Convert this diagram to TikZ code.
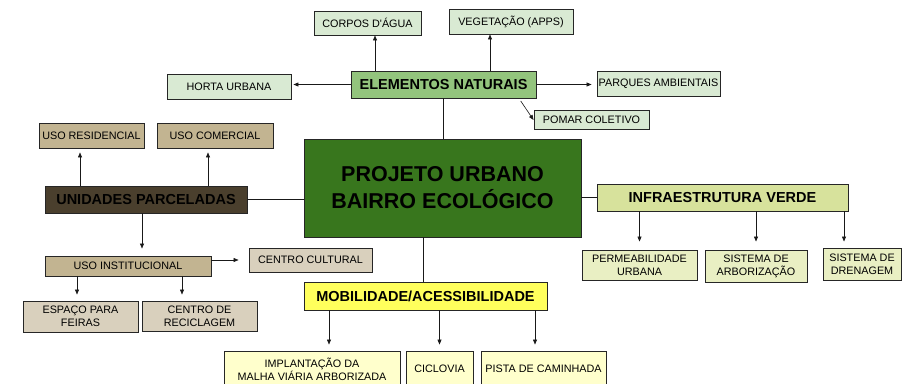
\documentclass[tikz,border=0pt]{standalone}
\usepackage{fontspec}
\setmainfont{Liberation Sans}
\usetikzlibrary{arrows.meta}
\definecolor{verdeclaro}{HTML}{D9EAD3}
\definecolor{verdemedio}{HTML}{93C47D}
\definecolor{verdeescuro}{HTML}{38761D}
\definecolor{marromescuro}{HTML}{4A3F2D}
\definecolor{marrom}{HTML}{C2B491}
\definecolor{marromclaro}{HTML}{D9D0BD}
\definecolor{verdeamarelo}{HTML}{D7E29C}
\definecolor{verdeamareloclaro}{HTML}{E9EFC3}
\definecolor{amarelo}{HTML}{FFFF5C}
\definecolor{amareloclaro}{HTML}{FFFFCC}
\tikzset{
	caixa/.style={draw=black!85, line width=0.9pt, inner sep=1pt, align=center, font=\fontsize{10.8}{13}\selectfont},
	titulo/.style={caixa, font=\fontsize{14.5}{17}\selectfont\bfseries},
	seta/.style={-{Triangle[length=5pt,width=4pt]}, line width=0.6pt, color=black!90},
	liga/.style={line width=0.8pt, color=black!90},
}

\begin{document}
\begin{tikzpicture}[x=1pt, y=-1pt]
		%%%%% START %%%%%
		\useasboundingbox (0, 0) rectangle (915, 383);
		
		\node[caixa, fill=verdeescuro, minimum width=277pt, minimum height=98pt, font=\fontsize{21.5}{27}\selectfont\bfseries] (projeto) at (442.5, 188) {PROJETO URBANO\\BAIRRO ECOLÓGICO};
		
		\node[titulo, fill=verdemedio, minimum width=185pt, minimum height=27pt] (elementos) at (443.5, 84.5) {ELEMENTOS NATURAIS};
		\node[caixa, fill=verdeclaro, minimum width=107pt, minimum height=24pt] (corpos) at (367.5, 23) {CORPOS D\textquotesingle ÁGUA};
		\node[caixa, fill=verdeclaro, minimum width=124pt, minimum height=25pt] (vegetacao) at (511, 21.5) {VEGETAÇÃO (APPS)};
		\node[caixa, fill=verdeclaro, minimum width=124pt, minimum height=25pt] (horta) at (229, 86.5) {HORTA URBANA};
		\node[caixa, fill=verdeclaro, minimum width=123pt, minimum height=25pt, inner sep=0pt] (parques) at (658.5, 83.5) {PARQUES AMBIENTAIS};
		\node[caixa, fill=verdeclaro, minimum width=115pt, minimum height=19pt] (pomar) at (591.5, 120) {POMAR COLETIVO};
		
		\node[titulo, fill=marromescuro, minimum width=202pt, minimum height=27pt] (unidades) at (146, 199.5) {UNIDADES PARCELADAS};
		\node[caixa, fill=marrom, minimum width=105pt, minimum height=25pt, inner sep=0pt] (residencial) at (91.5, 135.5) {USO RESIDENCIAL};
		\node[caixa, fill=marrom, minimum width=116pt, minimum height=25pt] (comercial) at (215, 135.5) {USO COMERCIAL};
		\node[caixa, fill=marrom, minimum width=166pt, minimum height=20pt] (institucional) at (128, 266) {USO INSTITUCIONAL};
		\node[caixa, fill=marromclaro, minimum width=123pt, minimum height=24pt] (cultural) at (310.5, 260) {CENTRO CULTURAL};
		\node[caixa, fill=marromclaro, minimum width=115pt, minimum height=31pt] (feiras) at (80.5, 316.5) {ESPAÇO PARA\\FEIRAS};
		\node[caixa, fill=marromclaro, minimum width=115pt, minimum height=30pt] (reciclagem) at (199.5, 316) {CENTRO DE\\RECICLAGEM};
		
		\node[titulo, fill=verdeamarelo, minimum width=251pt, minimum height=27pt] (infra) at (722.5, 197.5) {INFRAESTRUTURA VERDE};
		\node[caixa, fill=verdeamareloclaro, minimum width=115pt, minimum height=30pt] (permeabilidade) at (639.5, 265) {PERMEABILIDADE\\URBANA};
		\node[caixa, fill=verdeamareloclaro, minimum width=102pt, minimum height=32pt] (arborizacao) at (756, 266) {SISTEMA DE\\ARBORIZAÇÃO};
		\node[caixa, fill=verdeamareloclaro, minimum width=78pt, minimum height=32pt] (drenagem) at (862, 264) {SISTEMA DE\\DRENAGEM};
		
		\node[titulo, fill=amarelo, minimum width=243pt, minimum height=28pt] (mobilidade) at (425.5, 296) {MOBILIDADE/ACESSIBILIDADE};
		\node[caixa, fill=amareloclaro, minimum width=176pt, minimum height=36pt] (implantacao) at (312, 369) {IMPLANTAÇÃO DA\\MALHA VIÁRIA ARBORIZADA};
		\node[caixa, fill=amareloclaro, minimum width=67pt, minimum height=36pt] (ciclovia) at (439.5, 369) {CICLOVIA};
		\node[caixa, fill=amareloclaro, minimum width=125pt, minimum height=36pt, inner sep=0pt] (pista) at (543.5, 369) {PISTA DE CAMINHADA};
		
		% ligacoes ao centro
		\draw[liga] (elementos.south) -- (elementos.south |- projeto.north);
		\draw[liga] (unidades.east) -- (unidades.east -| projeto.west);
		\draw[liga] (projeto.east |- infra.west) -- (infra.west);
		\draw[liga] (projeto.south -| 423,0) -- (mobilidade.north -| 423,0);
		
		% elementos naturais
		\draw[seta] (elementos.north -| 375,0) -- (corpos.south -| 375,0);
		\draw[seta] (elementos.north -| 490,0) -- (vegetacao.south -| 490,0);
		\draw[seta, shorten >=2pt] (elementos.west) -- (elementos.west -| horta.east);
		\draw[seta, shorten >=5pt] (elementos.east) -- (elementos.east -| parques.west);
		\draw[seta, shorten <=3pt] (elementos.south -| 519,0) -- (pomar.west);
		
		% unidades parceladas
		\draw[seta, shorten >=4pt] (unidades.north -| 80,0) -- (residencial.south -| 80,0);
		\draw[seta, shorten >=4pt] (unidades.north -| 208,0) -- (comercial.south -| 208,0);
		\draw[seta, shorten >=7pt] (unidades.south -| 142,0) -- (institucional.north -| 142,0);
		\draw[seta, shorten >=10pt] (institucional.east |- cultural.west) -- (cultural.west);
		\draw[seta, shorten >=6pt] (institucional.south -| 77,0) -- (feiras.north -| 77,0);
		\draw[seta, shorten >=6pt] (institucional.south -| 182,0) -- (reciclagem.north -| 182,0);
		
		% infraestrutura verde
		\draw[seta, shorten >=8pt] (infra.south -| permeabilidade.north) -- (permeabilidade.north);
		\draw[seta, shorten >=8pt] (infra.south -| arborizacao.north) -- (arborizacao.north);
		\draw[seta, shorten >=6pt] (infra.south -| 844,0) -- (drenagem.north -| 844,0);
		
		% mobilidade
		\draw[seta, shorten >=6pt] (mobilidade.south -| 329,0) -- (implantacao.north -| 329,0);
		\draw[seta, shorten >=6pt] (mobilidade.south -| ciclovia.north) -- (ciclovia.north);
		\draw[seta, shorten >=6pt] (mobilidade.south -| 535,0) -- (pista.north -| 535,0);
		
		%%%%% END %%%%%
	\end{tikzpicture}
\end{document}
